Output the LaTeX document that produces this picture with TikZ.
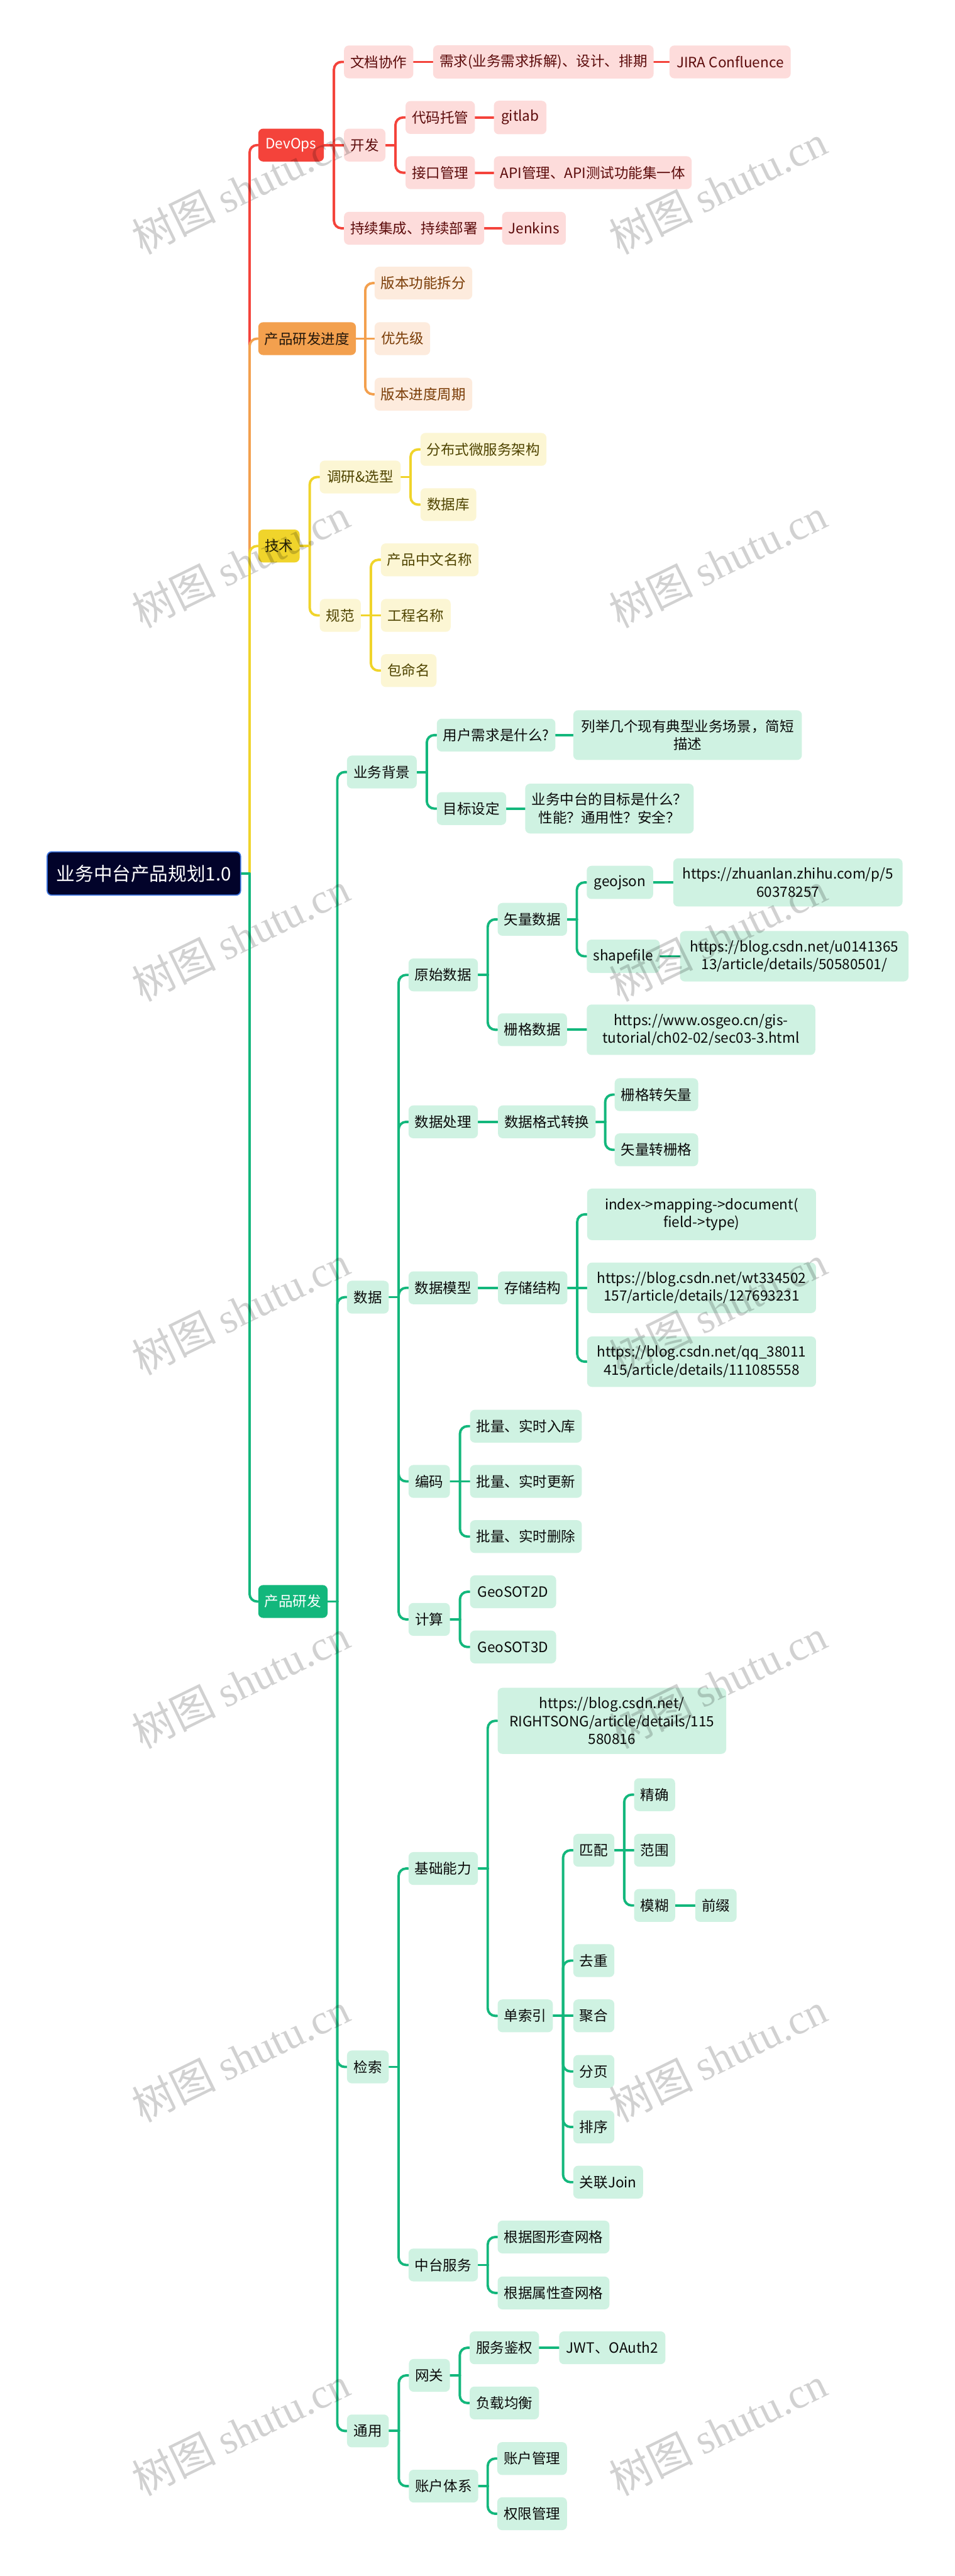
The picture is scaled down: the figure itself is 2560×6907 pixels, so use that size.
\documentclass[tikz,border=0pt]{standalone}
\usepackage{fontspec}
\setmainfont{Noto Sans CJK SC}
\newfontfamily\wmlat{Liberation Serif}
\usetikzlibrary{calc,backgrounds}
\definecolor{cRootF}{HTML}{02032A}
\definecolor{cRootL}{HTML}{3B72DE}
\definecolor{cRed}{HTML}{F4433B}
\definecolor{cRedL}{HTML}{FDDCDB}
\definecolor{cRedT}{HTML}{5C0B0B}
\definecolor{cOr}{HTML}{F3A04E}
\definecolor{cOrL}{HTML}{FDEBDD}
\definecolor{cOrT}{HTML}{7A3C06}
\definecolor{cYe}{HTML}{F0D42B}
\definecolor{cYeL}{HTML}{FCF6D4}
\definecolor{cYeT}{HTML}{4F4400}
\definecolor{cGr}{HTML}{13B77C}
\definecolor{cGrL}{HTML}{CFF2E2}
\definecolor{cGrT}{HTML}{0A0A0A}
\tikzset{
  base/.style={rounded corners=0.13cm, anchor=west, align=center, inner xsep=0.17cm, inner ysep=0.25cm, minimum height=0.88cm, font=\fontsize{10.8}{13.7}\selectfont},
  rootbox/.style={base, fill=cRootF, draw=cRootL, line width=0.03cm, text=white, font=\fontsize{14.2}{17}\selectfont, minimum height=1.16cm, inner xsep=0.25cm, rounded corners=0.12cm},
  lvR/.style={base, fill=cRed, text=white},
  sbR/.style={base, fill=cRedL, text=cRedT},
  lvO/.style={base, fill=cOr, text=black!85!cOr},
  sbO/.style={base, fill=cOrL, text=cOrT},
  lvY/.style={base, fill=cYe, text=black!85!cYe},
  sbY/.style={base, fill=cYeL, text=cYeT},
  lvG/.style={base, fill=cGr, text=white},
  sbG/.style={base, fill=cGrL, text=cGrT},
  conn/.style={draw=#1, line width=0.065cm, line cap=round},
  wm/.style={rotate=26, text=black, text opacity=0.18, font=\fontsize{32}{32}\selectfont, inner sep=0pt}
}
\newcommand\nd[6]{\node[#1, minimum width=#5*0.01cm] (#2) at (#3,#4) {#6};}
\newcommand\cnb[3]{%
  \draw[conn=#1] (#2.east) -- ($(#2.east)!0.5!(#2.east -| #3.west)$);
  \draw[conn=#1, rounded corners=0.2cm] ($(#2.east)!0.5!(#2.east -| #3.west)$) -- ($(#3.west)!0.5!(#3.west -| #2.east)$) -- (#3.west);%
}
\newcommand\cns[3]{\draw[conn=#1] (#2.east) -- (#3.west);}
\begin{document}
\begin{tikzpicture}[x=0.01cm,y=-0.01cm]
\useasboundingbox (0,0) rectangle (2560,6907);
% root
\nd{rootbox}{root}{125}{2342}{510}{业务中台产品规划1.0}
% red
\nd{lvR}{devops}{692}{389}{176}{DevOps}
\nd{sbR}{wdxz}{922}{166}{185}{文档协作}
\nd{sbR}{xq}{1161}{166}{581}{需求(业务需求拆解)、设计、排期}
\nd{sbR}{jira}{1795}{166}{325}{JIRA Confluence}
\nd{sbR}{kf}{922}{389}{111}{开发}
\nd{sbR}{dmtg}{1087}{315}{185}{代码托管}
\nd{sbR}{gitlab}{1324}{315}{141}{gitlab}
\nd{sbR}{jkgl}{1087}{463}{185}{接口管理}
\nd{sbR}{api}{1324}{463}{529}{API管理、API测试功能集一体}
\nd{sbR}{cx}{922}{612}{371}{持续集成、持续部署}
\nd{sbR}{jenkins}{1346}{612}{165}{Jenkins}
% orange
\nd{lvO}{cpjd}{692}{908}{258}{产品研发进度}
\nd{sbO}{bbgn}{1004}{759}{261}{版本功能拆分}
\nd{sbO}{yxj}{1004}{908}{149}{优先级}
\nd{sbO}{bbzq}{1004}{1057}{261}{版本进度周期}
% yellow
\nd{lvY}{jishu}{692}{1464}{111}{技术}
\nd{sbY}{dy}{857}{1279}{217}{调研\&选型}
\nd{sbY}{fbs}{1127}{1205}{335}{分布式微服务架构}
\nd{sbY}{sjk}{1127}{1353}{150}{数据库}
\nd{sbY}{gf}{857}{1650}{110}{规范}
\nd{sbY}{cpzw}{1021}{1501}{261}{产品中文名称}
\nd{sbY}{gcmc}{1021}{1650}{187}{工程名称}
\nd{sbY}{bmm}{1021}{1798}{149}{包命名}
% green
\nd{lvG}{cpyf}{692}{4294}{185}{产品研发}
\nd{sbG}{ywbj}{930}{2070}{187}{业务背景}
\nd{sbG}{yhxq}{1171}{1971}{312}{用户需求是什么?}
\nd{sbG}{lj}{1537}{1971}{613}{列举几个现有典型业务场景，简短\\描述}
\nd{sbG}{mbsd}{1171}{2168}{185}{目标设定}
\nd{sbG}{mb}{1408}{2168}{444}{业务中台的目标是什么？\\性能？通用性？安全？}
\nd{sbG}{sj}{930}{3478}{112}{数据}
\nd{sbG}{ysj}{1095}{2614}{186}{原始数据}
\nd{sbG}{slsj}{1334}{2465}{186}{矢量数据}
\nd{sbG}{geojson}{1573}{2366}{178}{geojson}
\nd{sbG}{urlA}{1805}{2366}{615}{https://zhuanlan.zhihu.com/p/5\\60378257}
\nd{sbG}{shp}{1573}{2564}{196}{shapefile}
\nd{sbG}{urlB}{1823}{2564}{613}{https://blog.csdn.net/u0141365\\13/article/details/50580501/}
\nd{sbG}{sgsj}{1334}{2761}{186}{栅格数据}
\nd{sbG}{urlC}{1573}{2761}{613}{https://www.osgeo.cn/gis-\\tutorial/ch02-02/sec03-3.html}
\nd{sbG}{sjcl}{1095}{3008}{186}{数据处理}
\nd{sbG}{gszh}{1335}{3008}{260}{数据格式转换}
\nd{sbG}{sgzsl}{1648}{2935}{222}{栅格转矢量}
\nd{sbG}{slzsg}{1648}{3083}{222}{矢量转栅格}
\nd{sbG}{sjmx}{1095}{3453}{186}{数据模型}
\nd{sbG}{ccjg}{1335}{3453}{186}{存储结构}
\nd{sbG}{idx}{1574}{3256}{614}{index->mapping->document(\\field->type)}
\nd{sbG}{urlD}{1574}{3453}{614}{https://blog.csdn.net/wt334502\\157/article/details/127693231}
\nd{sbG}{urlE}{1574}{3651}{614}{https://blog.csdn.net/qq\_38011\\415/article/details/111085558}
\nd{sbG}{bm}{1095}{3972}{111}{编码}
\nd{sbG}{rk}{1260}{3824}{296}{批量、实时入库}
\nd{sbG}{gx}{1260}{3972}{296}{批量、实时更新}
\nd{sbG}{sc}{1260}{4120}{296}{批量、实时删除}
\nd{sbG}{jsuan}{1095}{4342}{111}{计算}
\nd{sbG}{gtwo}{1260}{4268}{231}{GeoSOT2D}
\nd{sbG}{gthree}{1260}{4416}{231}{GeoSOT3D}
\nd{sbG}{jsuo}{930}{5542}{112}{检索}
\nd{sbG}{jcnl}{1095}{5010}{186}{基础能力}
\nd{sbG}{urlF}{1334}{4614}{613}{https://blog.csdn.net/\\RIGHTSONG/article/details/115\\580816}
\nd{sbG}{dsy}{1334}{5405}{148}{单索引}
\nd{sbG}{ppei}{1537}{4961}{110}{匹配}
\nd{sbG}{jq}{1700}{4812}{110}{精确}
\nd{sbG}{fw}{1700}{4961}{110}{范围}
\nd{sbG}{mh}{1700}{5109}{110}{模糊}
\nd{sbG}{qz}{1864}{5109}{111}{前缀}
\nd{sbG}{qc}{1537}{5257}{110}{去重}
\nd{sbG}{jh}{1537}{5405}{110}{聚合}
\nd{sbG}{fy}{1537}{5554}{110}{分页}
\nd{sbG}{pxu}{1537}{5703}{110}{排序}
\nd{sbG}{gljoin}{1537}{5851}{182}{关联Join}
\nd{sbG}{ztfw}{1095}{6073}{186}{中台服务}
\nd{sbG}{tx}{1334}{5998}{297}{根据图形查网格}
\nd{sbG}{sx}{1334}{6148}{297}{根据属性查网格}
\nd{sbG}{ty}{930}{6518}{112}{通用}
\nd{sbG}{wg}{1096}{6369}{110}{网关}
\nd{sbG}{fwjq}{1259}{6295}{186}{服务鉴权}
\nd{sbG}{jwt}{1499}{6295}{285}{JWT、OAuth2}
\nd{sbG}{fzjh}{1259}{6443}{186}{负载均衡}
\nd{sbG}{zhtx}{1096}{6666}{184}{账户体系}
\nd{sbG}{zhgl}{1333}{6592}{187}{账户管理}
\nd{sbG}{qxgl}{1333}{6740}{187}{权限管理}
\begin{pgfonlayer}{background}
\fill[white] (0,0) rectangle (2560,6907);
\cnb{cRed}{root}{devops}
\cnb{cOr}{root}{cpjd}
\cnb{cYe}{root}{jishu}
\cnb{cGr}{root}{cpyf}
% red
\cnb{cRed}{devops}{wdxz}
\cns{cRed}{devops}{kf}
\cnb{cRed}{devops}{cx}
\cns{cRed}{wdxz}{xq}
\cns{cRed}{xq}{jira}
\cnb{cRed}{kf}{dmtg}
\cnb{cRed}{kf}{jkgl}
\cns{cRed}{dmtg}{gitlab}
\cns{cRed}{jkgl}{api}
\cns{cRed}{cx}{jenkins}
% orange
\cnb{cOr}{cpjd}{bbgn}
\cns{cOr}{cpjd}{yxj}
\cnb{cOr}{cpjd}{bbzq}
% yellow
\cnb{cYe}{jishu}{dy}
\cnb{cYe}{jishu}{gf}
\cnb{cYe}{dy}{fbs}
\cnb{cYe}{dy}{sjk}
\cnb{cYe}{gf}{cpzw}
\cns{cYe}{gf}{gcmc}
\cnb{cYe}{gf}{bmm}
% green
\cnb{cGr}{cpyf}{ywbj}
\cnb{cGr}{cpyf}{sj}
\cnb{cGr}{cpyf}{jsuo}
\cnb{cGr}{cpyf}{ty}
\cnb{cGr}{ywbj}{yhxq}
\cnb{cGr}{ywbj}{mbsd}
\cns{cGr}{yhxq}{lj}
\cns{cGr}{mbsd}{mb}
\cnb{cGr}{sj}{ysj}
\cnb{cGr}{sj}{sjcl}
\cnb{cGr}{sj}{sjmx}
\cnb{cGr}{sj}{bm}
\cnb{cGr}{sj}{jsuan}
\cnb{cGr}{ysj}{slsj}
\cnb{cGr}{ysj}{sgsj}
\cnb{cGr}{slsj}{geojson}
\cnb{cGr}{slsj}{shp}
\cns{cGr}{geojson}{urlA}
\cns{cGr}{shp}{urlB}
\cns{cGr}{sgsj}{urlC}
\cns{cGr}{sjcl}{gszh}
\cnb{cGr}{gszh}{sgzsl}
\cnb{cGr}{gszh}{slzsg}
\cns{cGr}{sjmx}{ccjg}
\cnb{cGr}{ccjg}{idx}
\cns{cGr}{ccjg}{urlD}
\cnb{cGr}{ccjg}{urlE}
\cnb{cGr}{bm}{rk}
\cns{cGr}{bm}{gx}
\cnb{cGr}{bm}{sc}
\cnb{cGr}{jsuan}{gtwo}
\cnb{cGr}{jsuan}{gthree}
\cnb{cGr}{jsuo}{jcnl}
\cnb{cGr}{jsuo}{ztfw}
\cnb{cGr}{jcnl}{urlF}
\cnb{cGr}{jcnl}{dsy}
\cnb{cGr}{dsy}{ppei}
\cnb{cGr}{dsy}{qc}
\cns{cGr}{dsy}{jh}
\cnb{cGr}{dsy}{fy}
\cnb{cGr}{dsy}{pxu}
\cnb{cGr}{dsy}{gljoin}
\cnb{cGr}{ppei}{jq}
\cns{cGr}{ppei}{fw}
\cnb{cGr}{ppei}{mh}
\cns{cGr}{mh}{qz}
\cnb{cGr}{ztfw}{tx}
\cnb{cGr}{ztfw}{sx}
\cnb{cGr}{ty}{wg}
\cnb{cGr}{ty}{zhtx}
\cnb{cGr}{wg}{fwjq}
\cnb{cGr}{wg}{fzjh}
\cns{cGr}{fwjq}{jwt}
\cnb{cGr}{zhtx}{zhgl}
\cnb{cGr}{zhtx}{qxgl}
\end{pgfonlayer}
% watermarks
\foreach \yy in {507,1509,2511,3512,4514,5516,6518}{
  \node[wm] (wmL\yy) at (645,\yy) {树图 {\wmlat shutu.cn}};
  \node[wm] (wmR\yy) at (1925,\yy) {树图 {\wmlat shutu.cn}};
}
\end{tikzpicture}
\end{document}
